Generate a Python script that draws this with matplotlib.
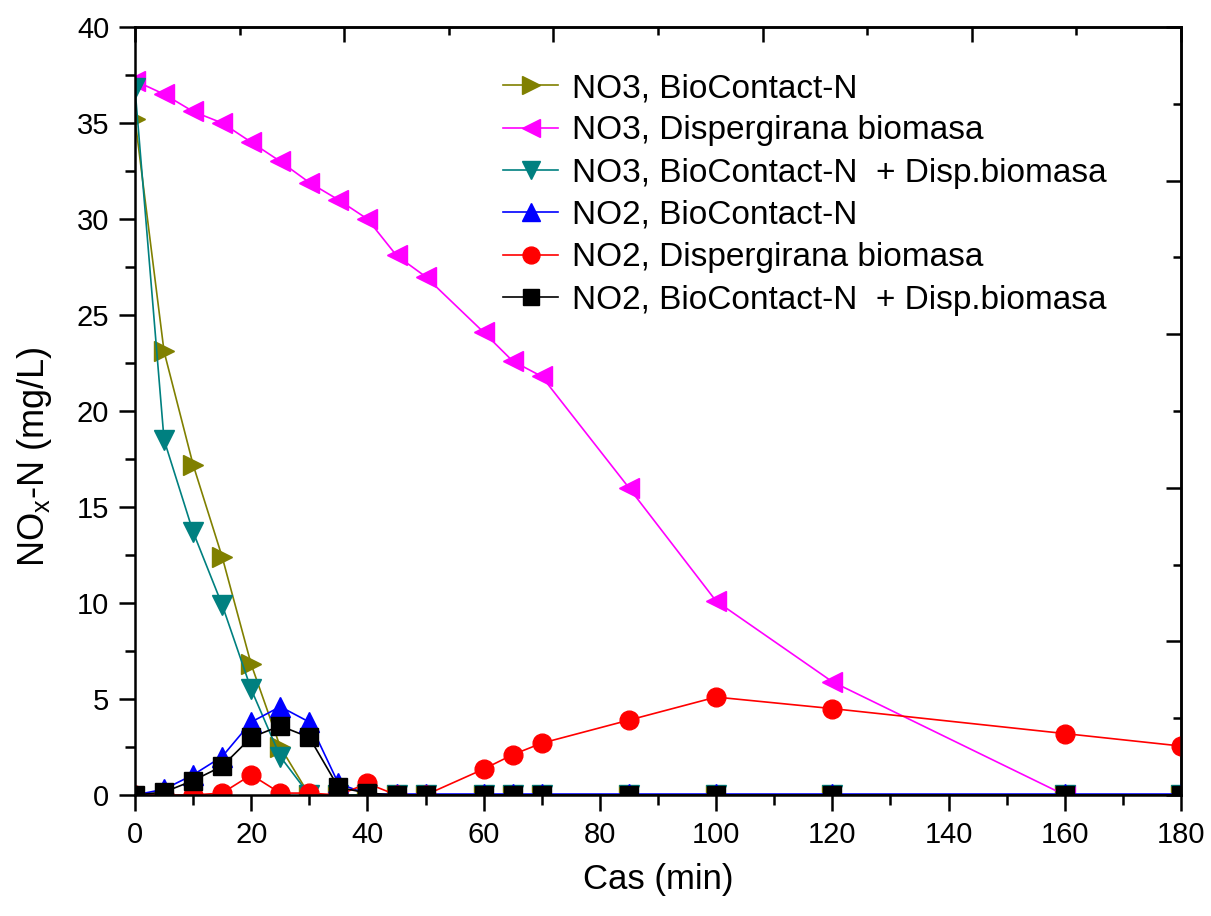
import numpy as np
import matplotlib.pyplot as plt

plt.rcParams['font.family'] = ['Liberation Sans', 'DejaVu Sans']

# Sampling times (min)
time = [0, 5, 10, 15, 20, 25, 30, 35, 40, 45, 50, 60, 65, 70, 85, 100, 120, 160, 180]
time_disp_no3 = [0, 5, 10, 15, 20, 25, 30, 35, 40, 45, 50, 60, 65, 70, 85, 100, 120, 160]

# NOx-N concentrations (mg/L)
no3_biocontact = [35.2, 23.1, 17.2, 12.4, 6.8, 2.5, 0, 0, 0, 0, 0, 0, 0, 0, 0, 0, 0, 0, 0]
no3_disp = [37.2, 36.5, 35.6, 35.0, 34.0, 33.0, 31.9, 31.0, 30.0, 28.1, 27.0,
            24.1, 22.6, 21.8, 16.0, 10.1, 5.9, 0.0]
no3_combined = [36.8, 18.5, 13.7, 9.9, 5.5, 2.0, 0, 0, 0, 0, 0, 0, 0, 0, 0, 0, 0, 0, 0]
no2_biocontact = [0, 0.3, 1.05, 2.0, 3.8, 4.6, 3.8, 0.6, 0.05, 0.05, 0.05, 0.05, 0.05,
                  0.05, 0.05, 0.05, 0.05, 0.05, 0.05]
no2_disp = [0, 0, 0, 0.1, 1.05, 0.1, 0.1, 0, 0.6, 0, 0, 1.35, 2.1, 2.7, 3.9, 5.1, 4.5, 3.2, 2.55]
no2_combined = [0, 0.15, 0.75, 1.5, 3.0, 3.6, 3.0, 0.4, 0.1, 0, 0, 0, 0, 0, 0, 0, 0, 0, 0]

labels = ['NO3, BioContact-N',
          'NO3, Dispergirana biomasa',
          'NO3, BioContact-N  + Disp.biomasa',
          'NO2, BioContact-N',
          'NO2, Dispergirana biomasa',
          'NO2, BioContact-N  + Disp.biomasa']

fig = plt.figure(figsize=(12.11, 9.16), dpi=100)
ax = fig.add_axes([135 / 1211, 121 / 916, 1046 / 1211, 768 / 916])

lw = 1.2
ax.plot(time, no3_biocontact, color='#808000', marker='>', ms=14, lw=lw, label=labels[0])
ax.plot(time_disp_no3, no3_disp, color='#FF00FF', marker='<', ms=14, lw=lw, label=labels[1])
ax.plot(time, no3_combined, color='#008080', marker='v', ms=14, lw=lw, label=labels[2])
ax.plot(time, no2_biocontact, color='#0000FF', marker='^', ms=14, lw=lw, label=labels[3])
ax.plot(time, no2_disp, color='#FF0000', marker='o', ms=13.5, lw=lw, label=labels[4])
ax.plot(time, no2_combined, color='#000000', marker='s', ms=12.5, lw=lw, label=labels[5])

ax.set_xlim(0, 180)
ax.set_ylim(0, 40)
ax.set_xticks(np.arange(0, 181, 20))
ax.set_xticks(np.arange(10, 180, 20), minor=True)
ax.set_yticks(np.arange(0, 41, 5))
ax.set_yticks(np.arange(2.5, 40, 5), minor=True)

for s in ax.spines.values():
    s.set_linewidth(1.8)

ax.tick_params(which='major', direction='out', length=11.5, width=1.8, labelsize=21, pad=7)
ax.tick_params(which='minor', direction='out', length=7, width=1.8)

# top and right axes: unlabeled inward ticks
top = ax.secondary_xaxis('top')
top.set_xticks(np.arange(0, 181, 36))
top.set_xticks(np.arange(18, 180, 36), minor=True)
top.tick_params(which='major', direction='in', length=11, width=1.8, labeltop=False)
top.tick_params(which='minor', direction='in', length=6, width=1.8)
top.spines['top'].set_linewidth(1.8)

right = ax.secondary_yaxis('right')
right.set_yticks(np.arange(0, 41, 8))
right.set_yticks(np.arange(4, 40, 8), minor=True)
right.tick_params(which='major', direction='in', length=11, width=1.8, labelright=False)
right.tick_params(which='minor', direction='in', length=6, width=1.8)
right.spines['right'].set_linewidth(1.8)

ax.set_xlabel('Cas (min)', fontsize=25, labelpad=10)
ax.set_ylabel('NO$_\\mathregular{x}$-N (mg/L)', fontsize=26)
ax.yaxis.set_label_coords(-0.077, 0.44)

ax.legend(loc='upper left', bbox_to_anchor=(503 / 1211, 1 - 73 / 916),
          bbox_transform=fig.transFigure, frameon=False, fontsize=24,
          handlelength=1.65, handletextpad=0.42, labelspacing=0.34,
          borderpad=0, borderaxespad=0, markerscale=0.9)

fig.savefig('out.png', dpi=100)
